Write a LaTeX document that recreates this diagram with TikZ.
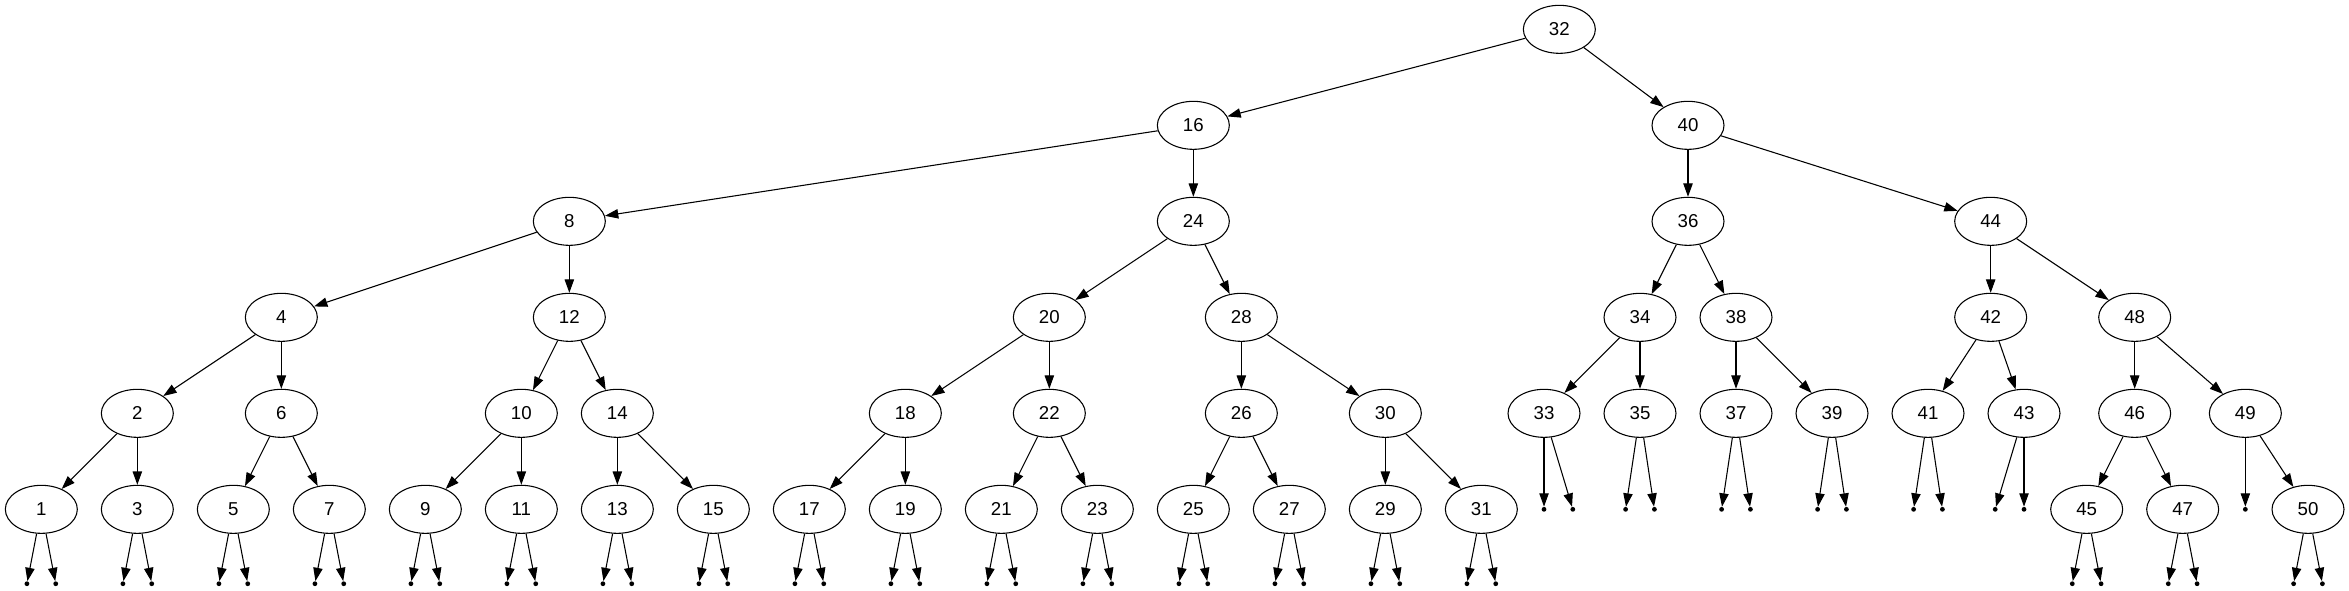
\documentclass[tikz,border=0pt]{standalone}
\usepackage{fontspec}
\setmainfont{Liberation Sans}
\usepackage{tikz}
\usetikzlibrary{arrows.meta}
\usetikzlibrary{shapes.geometric}

\tikzset{
	key/.style={draw, ellipse, line width=0.8pt, minimum width=54pt, minimum height=36pt, inner sep=0pt, font=\fontsize{14}{16}\selectfont},
	nil/.style={circle, fill=black, inner sep=0pt, minimum size=3.6pt},
	link/.style={->, line width=0.8pt}
}

\begin{document}
\begin{tikzpicture}[x=1pt, y=1pt, >={Triangle[length=10pt, width=7pt]}]
		\useasboundingbox (0,0) rectangle (1761.75,-443.25);

		%nodes
		\node[key] (n32) at (1169.5,-22) {32};

		\node[key] (n16) at (895,-94) {16};
		\node[key] (n40) at (1266,-94) {40};

		\node[key] (n8)  at (427,-166) {8};
		\node[key] (n24) at (895,-166) {24};
		\node[key] (n36) at (1266,-166) {36};
		\node[key] (n44) at (1493,-166) {44};

		\node[key] (n4)  at (211,-238) {4};
		\node[key] (n12) at (427,-238) {12};
		\node[key] (n20) at (787,-238) {20};
		\node[key] (n28) at (931,-238) {28};
		\node[key] (n34) at (1230,-238) {34};
		\node[key] (n38) at (1302,-238) {38};
		\node[key] (n42) at (1493,-238) {42};
		\node[key] (n48) at (1601,-238) {48};

		\node[key] (n2)  at (103,-310) {2};
		\node[key] (n6)  at (211,-310) {6};
		\node[key] (n10) at (391,-310) {10};
		\node[key] (n14) at (463,-310) {14};
		\node[key] (n18) at (679,-310) {18};
		\node[key] (n22) at (787,-310) {22};
		\node[key] (n26) at (931,-310) {26};
		\node[key] (n30) at (1039,-310) {30};
		\node[key] (n33) at (1158,-310) {33};
		\node[key] (n35) at (1230,-310) {35};
		\node[key] (n37) at (1302,-310) {37};
		\node[key] (n39) at (1374,-310) {39};
		\node[key] (n41) at (1446,-310) {41};
		\node[key] (n43) at (1518,-310) {43};
		\node[key] (n46) at (1601,-310) {46};
		\node[key] (n49) at (1684,-310) {49};

		\foreach \v/\x in {1/31,3/103,5/175,7/247,9/319,11/391,13/463,15/535,17/607,19/679,21/751,23/823,25/895,27/967,29/1039,31/1111,45/1565,47/1637,50/1731}
			\node[key] (n\v) at (\x,-382) {\v};

		%empty children
		\foreach \v in {1,3,5,7,9,11,13,15,17,19,21,23,25,27,29,31,45,47,50}{
			\path (n\v) ++(-10.8,-55.8) node[nil] (n\v l) {};
			\path (n\v) ++(10.8,-55.8) node[nil] (n\v r) {};
		}
		\foreach \v in {35,37,39,41}{
			\path (n\v) ++(-10.8,-72) node[nil] (n\v l) {};
			\path (n\v) ++(10.8,-72) node[nil] (n\v r) {};
		}
		\node[nil] (n33l) at (1158,-382) {};
		\node[nil] (n33r) at (1179.6,-382) {};
		\node[nil] (n43l) at (1496.4,-382) {};
		\node[nil] (n43r) at (1518,-382) {};
		\node[nil] (n49l) at (1684,-382) {};

		%edges
		\foreach \a/\b in {32/16,32/40,16/8,16/24,40/36,40/44,8/4,8/12,24/20,24/28,36/34,36/38,44/42,44/48,
			4/2,4/6,12/10,12/14,20/18,20/22,28/26,28/30,34/33,34/35,38/37,38/39,42/41,42/43,48/46,48/49,
			2/1,2/3,6/5,6/7,10/9,10/11,14/13,14/15,18/17,18/19,22/21,22/23,26/25,26/27,30/29,30/31,46/45,46/47,49/50}
			\draw[link] (n\a) -- (n\b);

		\foreach \v in {1,3,5,7,9,11,13,15,17,19,21,23,25,27,29,31,45,47,50,33,35,37,39,41,43}{
			\draw[link] (n\v) -- (n\v l);
			\draw[link] (n\v) -- (n\v r);
		}
		\draw[link] (n49) -- (n49l);
\end{tikzpicture}
\end{document}
